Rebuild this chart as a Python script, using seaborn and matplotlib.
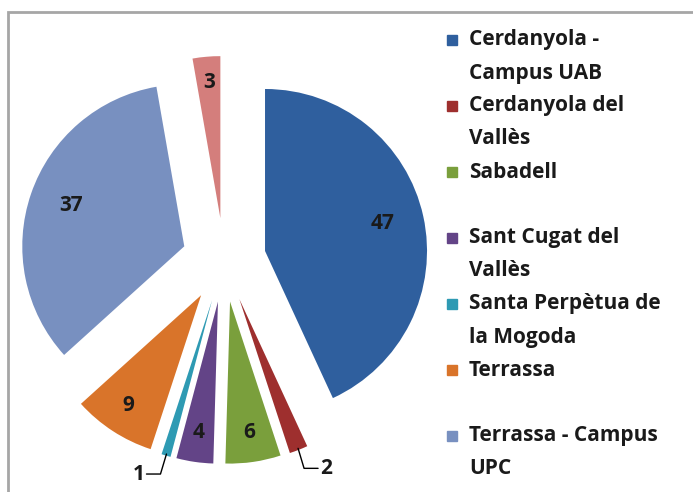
import numpy as np
import seaborn as sns
import matplotlib.pyplot as plt
from matplotlib.patches import Rectangle


# dades del gràfic
municipis = [
    "Cerdanyola -\nCampus UAB",
    "Cerdanyola del\nVallès",
    "Sabadell\n",
    "Sant Cugat del\nVallès",
    "Santa Perpètua de\nla Mogoda",
    "Terrassa\n",
    "Terrassa - Campus\nUPC",
    "",
]
valors = [47, 2, 6, 4, 1, 9, 37, 3]
colors = ["#2F5F9E", "#9E2F2E", "#7A9F3C", "#634487", "#2E9AB3",
          "#D9742A", "#7890C0", "#D47E7C"]

sns.set_theme(style="white")
plt.rcParams['font.family'] = ['Open Sans', 'DejaVu Sans']

fig = plt.figure(figsize=(6.93, 4.92), dpi=100)
ax = fig.add_axes([0, 0, 1, 1])

# marc del gràfic
fig.patches.append(Rectangle((8 / 693, -0.1), 1.2, (492 - 12) / 492 + 0.1,
                             transform=fig.transFigure, fill=False,
                             edgecolor='#A6A6A6', linewidth=2))

radi = 162
centre = (224, 232)
wedges, _ = ax.pie(valors, colors=colors, startangle=90, counterclock=False,
                   radius=radi, center=centre, explode=[42] * len(valors),
                   wedgeprops=dict(linewidth=0), frame=True)
ax.set_xlim(0, 693)
ax.set_ylim(0, 492)
ax.set_aspect('equal')
ax.axis('off')

estil = dict(fontsize=15, fontweight='bold', color='#1a1a1a')

# etiquetes de valor
for w, v in zip(wedges, valors):
    th = np.deg2rad((w.theta1 + w.theta2) / 2)
    cx, cy = w.center
    if v in (1, 2):
        # etiqueta fora amb línia guia
        px = cx + radi * 0.99 * np.cos(th)
        py = cy + radi * 0.99 * np.sin(th)
        sign = -1 if np.cos(th) < 0 else 1
        tx = px + sign * 28
        ty = py - 20
        ax.plot([px, px + sign * 6, tx - sign * 8], [py, ty, ty],
                color='black', lw=1)
        ax.text(tx, ty, str(v), ha='center', va='center', **estil)
    else:
        d = 0.74 if v > 20 else 0.83
        ax.text(cx + radi * d * np.cos(th), cy + radi * d * np.sin(th) + 2, str(v),
                ha='center', va='center', **estil)

# llegenda
for i, (nom, c) in enumerate(zip(municipis[:7], colors[:7])):
    y = 452 - i * 66
    fig.patches.append(Rectangle((447 / 693, (y - 5) / 492), 10 / 693, 10 / 492,
                                 transform=fig.transFigure, color=c))
    for j, l in enumerate(nom.split("\n")):
        fig.text(469 / 693, (y - j * 33) / 492, l, ha='left', va='center',
                 fontsize=15, fontweight='bold', color='#1a1a1a')

fig.savefig('out.png', dpi=100)
